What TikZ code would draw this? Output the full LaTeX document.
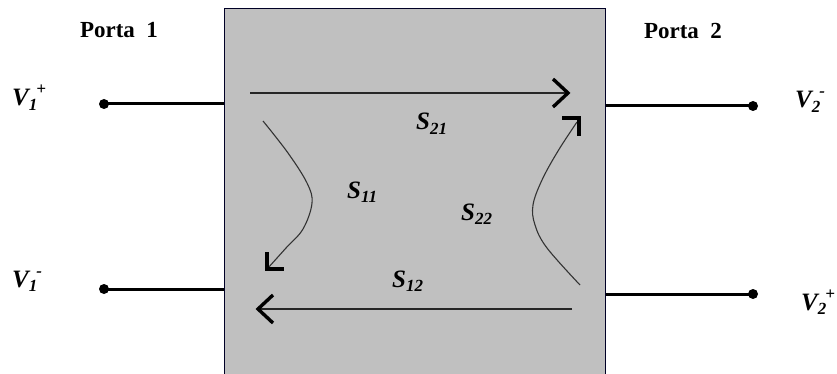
\documentclass[tikz,border=0pt]{standalone}
\usepackage{fontspec}
\setmainfont{Liberation Serif}
\newcommand{\lbS}[1]{{\fontsize{25}{27}\selectfont\bfseries\itshape S}{\fontsize{17}{17}\selectfont\bfseries\itshape\raisebox{-4.5pt}{#1}}}
\newcommand{\lbV}[2]{{\fontsize{25}{27}\selectfont\bfseries\itshape V}{\fontsize{17}{17}\selectfont\bfseries\itshape\raisebox{-4.5pt}{#1}\hspace{-1pt}\raisebox{11pt}{#2}}}
\tikzset{
  boxst/.style={draw=black!85!blue, line width=1.3pt, fill=boxgray, rectangle, inner sep=0pt},
  wire/.style={line width=3pt, black},
  dotst/.style={circle, fill=black, inner sep=0pt, minimum size=10pt},
  flow/.style={line width=1.5pt, black!85},
  chev/.style={line width=3.4pt, black, line join=miter, line cap=butt},
  refl/.style={line width=1.1pt, black!80},
  lbl/.style={inner sep=0pt, anchor=base west},
  porta/.style={inner sep=0pt, anchor=base, font=\fontsize{23}{25}\selectfont\bfseries}
}
\definecolor{boxgray}{HTML}{C0C0C0}
\begin{document}
\begin{tikzpicture}[x=1pt,y=-1pt]
\useasboundingbox (0,0) rectangle (837,374);
\node[boxst, minimum width=381pt, minimum height=369pt, anchor=north west] (box) at (224,8) {};
% port wires
\node[dotst] (d1) at (104,104) {};
\node[dotst] (d2) at (104,289) {};
\node[dotst] (d3) at (753,106) {};
\node[dotst] (d4) at (753,294) {};
\draw[wire] (d1.center) -- (d1 -| box.west);
\draw[wire] (d2.center) -- (d2 -| box.west);
\draw[wire] (d3.center) -- (d3 -| box.east);
\draw[wire] (d4.center) -- (d4 -| box.east);
% labels
\node[porta] (p1) at (119,38) {Porta\ \ 1};
\node[porta] (p2) at (683,39) {Porta\ \ 2};
\node[lbl] (v1p) at (12,106) {\lbV{1}{+}};
\node[lbl] (v1m) at (12,287) {\lbV{1}{-}};
\node[lbl] (v2m) at (795,108) {\lbV{2}{-}};
\node[lbl] (v2p) at (801,310) {\lbV{2}{+}};
\node[lbl] (s21) at (416,130) {\lbS{21}};
\node[lbl] (s11) at (347,198) {\lbS{11}};
\node[lbl] (s22) at (461,220) {\lbS{22}};
\node[lbl] (s12) at (392,287) {\lbS{12}};
% S21 transmission arrow
\coordinate (a21s) at (250,93);
\coordinate (a21e) at (568,93);
\coordinate (a21u) at (553,79);
\coordinate (a21d) at (553,107);
\draw[flow] (a21s) -- (a21e);
\draw[chev] (a21u) -- (a21e) -- (a21d);
% S12 transmission arrow
\coordinate (a12s) at (572,309);
\coordinate (a12e) at (258,309);
\coordinate (a12u) at (273,295);
\coordinate (a12d) at (273,323);
\draw[flow] (a12s) -- (a12e);
\draw[chev] (a12u) -- (a12e) -- (a12d);
% S11 reflection
\draw[refl] plot[smooth, tension=0.6] coordinates {(263,121) (288,153) (307,183) (312,203) (303,229) (286,248) (268,268)};
\coordinate (c11a) at (267,252);
\coordinate (c11b) at (267,269);
\coordinate (c11c) at (284,269);
\draw[chev] (c11a) -- (c11b) -- (c11c);
% S22 reflection
\draw[refl] plot[smooth, tension=0.6] coordinates {(580,285) (547,248) (535,225) (533,205) (542,180) (558,151) (577,122)};
\coordinate (c22a) at (562,118);
\coordinate (c22b) at (579,118);
\coordinate (c22c) at (579,136);
\draw[chev] (c22a) -- (c22b) -- (c22c);
\end{tikzpicture}
\end{document}
